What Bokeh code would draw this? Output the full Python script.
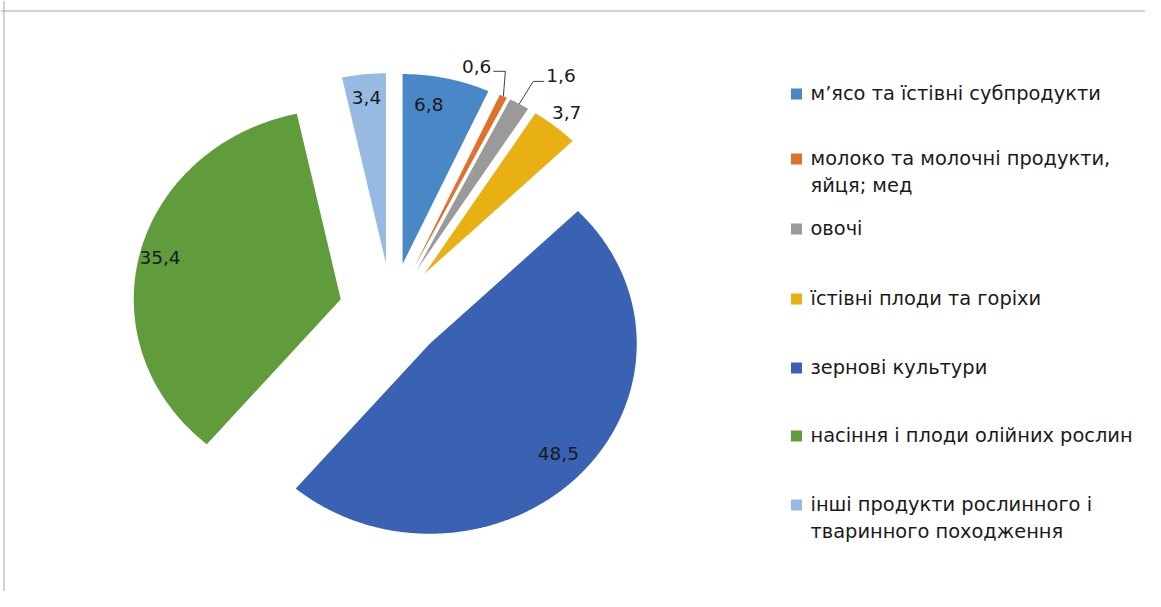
import math
from bokeh.plotting import figure
from bokeh.models import Range1d, Span
from bokeh.core.properties import value
from bokeh.embed import file_html
from bokeh.resources import INLINE

# ---- data ----
categories = [
    "м’ясо та їстівні субпродукти",
    "молоко та молочні продукти, яйця; мед",
    "овочі",
    "їстівні плоди та горіхи",
    "зернові культури",
    "насіння і плоди олійних рослин",
    "інші продукти рослинного і тваринного походження",
]
shares = [6.8, 0.6, 1.6, 3.7, 48.5, 35.4, 3.4]
share_labels = ["6,8", "0,6", "1,6", "3,7", "48,5", "35,4", "3,4"]
legend_lines = [
    ["м’ясо та їстівні субпродукти"],
    ["молоко та молочні продукти,", "яйця; мед"],
    ["овочі"],
    ["їстівні плоди та горіхи"],
    ["зернові культури"],
    ["насіння і плоди олійних рослин"],
    ["інші продукти рослинного і", "тваринного походження"],
]
colors = ["#4A87C6", "#E0712A", "#9A9A9A", "#E9B014", "#3A62B3", "#619C3C", "#97BAE2"]

# ---- layout (screenshot pixel coordinates) ----
W, H = 1145, 591
CX, CY = 391.0, 310.5      # pie centre
RX, RY = 207.0, 190.0      # elliptical radii
EXPLODE = 48.0
KX = RX / RY
FONT = value("DejaVu Sans")

p = figure(width=W, height=H, output_backend="svg", toolbar_location=None,
           x_range=Range1d(0, W), y_range=Range1d(H, 0),
           x_axis_location=None, y_axis_location=None,
           min_border=0, min_border_left=0, min_border_right=0,
           min_border_top=0, min_border_bottom=0)
p.grid.visible = False
p.outline_line_color = None
p.background_fill_color = "white"
p.border_fill_color = "white"

p.add_layout(Span(location=10.5, dimension="width", line_color="#A6A6A6", line_width=1))
p.add_layout(Span(location=3.5, dimension="height", line_color="#A6A6A6", line_width=1))

total = sum(shares)
xs, ys = [], []
apexes, starts, spans = [], [], []
start = 0.0
for v in shares:
    ang = v / total * 2 * math.pi
    a0, a1 = start, start + ang
    am = (a0 + a1) / 2
    ox = CX + EXPLODE * KX * math.sin(am)
    oy = CY - EXPLODE * math.cos(am)
    n = max(3, int(math.degrees(ang) * 2))
    px, py = [ox], [oy]
    for i in range(n + 1):
        t = a0 + ang * i / n
        px.append(ox + RX * math.sin(t))
        py.append(oy - RY * math.cos(t))
    xs.append(px)
    ys.append(py)
    apexes.append((ox, oy))
    starts.append(a0)
    spans.append(ang)
    start = a1

p.patches(xs, ys, fill_color=colors, line_color=None)

# ---- data labels ----
# inside labels: (radial fraction, position within the slice's angle)
inside = {0: (0.85, 0.35), 4: (0.85, 0.5), 5: (0.9, 0.5), 6: (0.88, 0.5)}
lx, ly, lt, la = [], [], [], []
lead_x, lead_y = [], []
for i, lab in enumerate(share_labels):
    ox, oy = apexes[i]
    am = starts[i] + spans[i] / 2
    if i in inside:
        f, q = inside[i]
        a = starts[i] + spans[i] * q
        lx.append(ox + f * RX * math.sin(a))
        ly.append(oy - f * RY * math.cos(a))
        lt.append(lab); la.append("center")
    else:
        ex = ox + RX * math.sin(am)
        ey = oy - RY * math.cos(am)
        if i == 3:
            lx.append(ox + 1.09 * RX * math.sin(am))
            ly.append(oy - 1.09 * RY * math.cos(am))
            lt.append(lab); la.append("center")
        elif i == 1:
            lead_x.append([ex, ex + 2, ex - 10])
            lead_y.append([ey, ey - 25, ey - 25])
            lx.append(ex - 12); ly.append(ey - 30)
            lt.append(lab); la.append("right")
        elif i == 2:
            lead_x.append([ex, ex + 14, ex + 25])
            lead_y.append([ey, ey - 22.5, ey - 22.5])
            lx.append(ex + 27); ly.append(ey - 28)
            lt.append(lab); la.append("left")

p.multi_line(lead_x, lead_y, line_color="#3F3F3F", line_width=1)
p.text(x=lx, y=ly, text=lt, text_align=la, text_baseline="middle",
       text_font=FONT, text_font_size="18.5px", text_color="#1A1A1A")

# ---- legend ----
legend_y = [93, 158, 228, 298, 367, 435, 504]
LINE_H = 27
sq_x, sq_y = [], []
tx, ty, tt = [], [], []
for i, lines in enumerate(legend_lines):
    sq_x.append(796)
    sq_y.append(legend_y[i] + 0.5)
    for j, ln in enumerate(lines):
        tx.append(810)
        ty.append(legend_y[i] + j * LINE_H)
        tt.append(ln)
p.rect(x=sq_x, y=sq_y, width=11, height=11, fill_color=colors, line_color=None)
p.text(x=tx, y=ty, text=tt, text_align="left", text_baseline="middle",
       text_font=FONT, text_font_size="19.4px", text_color="#1A1A1A")

open("out.html", "w").write(file_html(p, INLINE))
